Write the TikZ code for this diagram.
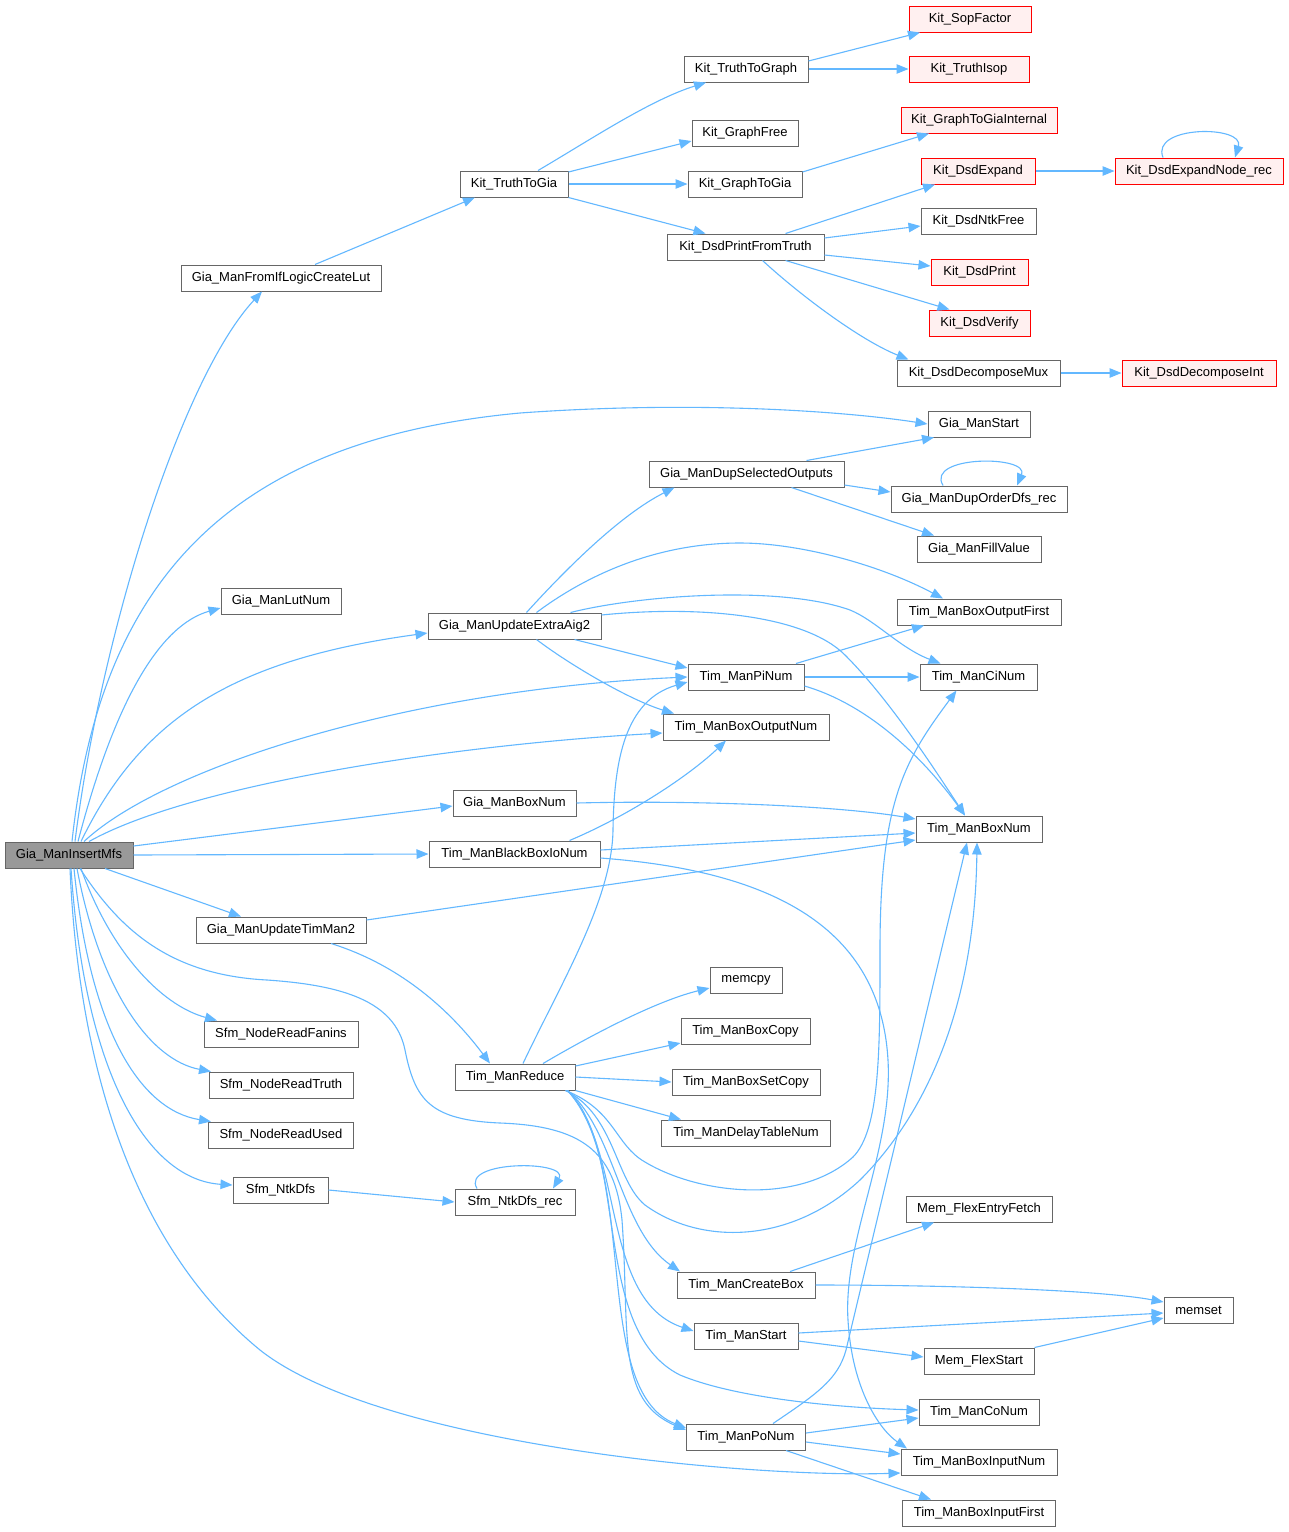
\documentclass[tikz,border=0pt]{standalone}
\usepackage{fontspec}
\setmainfont{Liberation Sans}
\usetikzlibrary{arrows.meta}
\definecolor{edgec}{HTML}{63B8FF}
\definecolor{boxc}{HTML}{666666}
\definecolor{redfill}{HTML}{FFF0F0}
\definecolor{rootfill}{HTML}{999999}
\begin{document}
\begin{tikzpicture}[x=1pt,y=-1pt,
 box/.style={draw=boxc, fill=white, line width=1pt, minimum height=26pt, inner sep=0pt, font=\fontsize{13}{15}\selectfont},
 redbox/.style={box, draw=red, fill=redfill},
 rootbox/.style={box, fill=rootfill},
 cedge/.style={draw=edgec, line width=1.1pt, -{Triangle[length=12pt,width=9.5pt]}},
]
\useasboundingbox[fill=white] (0,0) rectangle (1289,1532);

% nodes
\node[rootbox,minimum width=128pt] (root) at (69,855) {Gia\_ManInsertMfs};
\node[box,minimum width=200pt] (fromif) at (281,278) {Gia\_ManFromIfLogicCreateLut};
\node[box,minimum width=108pt] (truthtogia) at (514,184) {Kit\_TruthToGia};
\node[box,minimum width=124pt] (truthtograph) at (746,69) {Kit\_TruthToGraph};
\node[redbox,minimum width=122pt] (sopfactor) at (970,19) {Kit\_SopFactor};
\node[redbox,minimum width=120pt] (truthisop) at (969,69) {Kit\_TruthIsop};
\node[box,minimum width=106pt] (graphfree) at (745,133) {Kit\_GraphFree};
\node[redbox,minimum width=156pt] (graphtogiaint) at (979,120) {Kit\_GraphToGiaInternal};
\node[box,minimum width=114pt] (graphtogia) at (745,184) {Kit\_GraphToGia};
\node[redbox,minimum width=114pt] (dsdexpand) at (978,171) {Kit\_DsdExpand};
\node[redbox,minimum width=168pt] (dsdexpandrec) at (1199,171) {Kit\_DsdExpandNode\_rec};
\node[box,minimum width=157pt] (dsdprintft) at (745.5,247) {Kit\_DsdPrintFromTruth};
\node[box,minimum width=115pt] (dsdntkfree) at (978.5,221) {Kit\_DsdNtkFree};
\node[redbox,minimum width=97pt] (dsdprint) at (979.5,272) {Kit\_DsdPrint};
\node[redbox,minimum width=101pt] (dsdverify) at (979.5,323) {Kit\_DsdVerify};
\node[box,minimum width=163pt] (dsdmux) at (978.5,373) {Kit\_DsdDecomposeMux};
\node[redbox,minimum width=154pt] (dsdint) at (1199,373) {Kit\_DsdDecomposeInt};
\node[box,minimum width=102pt] (giastart) at (979,424) {Gia\_ManStart};
\node[box,minimum width=195pt] (dupsel) at (746.5,474) {Gia\_ManDupSelectedOutputs};
\node[box,minimum width=176pt] (duporder) at (979,499) {Gia\_ManDupOrderDfs\_rec};
\node[box,minimum width=124pt] (fillvalue) at (979,549) {Gia\_ManFillValue};
\node[box,minimum width=120pt] (lutnum) at (281,601) {Gia\_ManLutNum};
\node[box,minimum width=173pt] (extra) at (514.5,626) {Gia\_ManUpdateExtraAig2};
\node[box,minimum width=164pt] (boxoutfirst) at (979,612) {Tim\_ManBoxOutputFirst};
\node[box,minimum width=116pt] (pinum) at (746,677) {Tim\_ManPiNum};
\node[box,minimum width=117pt] (cinum) at (978.5,677) {Tim\_ManCiNum};
\node[box,minimum width=166pt] (boxoutnum) at (746,727) {Tim\_ManBoxOutputNum};
\node[box,minimum width=123pt] (giaboxnum) at (514.5,803) {Gia\_ManBoxNum};
\node[box,minimum width=126pt] (boxnum) at (979,829) {Tim\_ManBoxNum};
\node[box,minimum width=171pt] (blackbox) at (514.5,854) {Tim\_ManBlackBoxIoNum};
\node[box,minimum width=170pt] (timman2) at (281,930) {Gia\_ManUpdateTimMan2};
\node[box,minimum width=72pt] (memcpy) at (746,980) {memcpy};
\node[box,minimum width=129pt] (boxcopy) at (745.5,1031) {Tim\_ManBoxCopy};
\node[box,minimum width=154pt] (fanins) at (281,1034) {Sfm\_NodeReadFanins};
\node[box,minimum width=120pt] (reduce) at (515,1077) {Tim\_ManReduce};
\node[box,minimum width=148pt] (boxsetcopy) at (746,1082) {Tim\_ManBoxSetCopy};
\node[box,minimum width=144pt] (readtruth) at (281,1085) {Sfm\_NodeReadTruth};
\node[box,minimum width=169pt] (delaytable) at (746,1133) {Tim\_ManDelayTableNum};
\node[box,minimum width=145pt] (readused) at (281,1135) {Sfm\_NodeReadUsed};
\node[box,minimum width=95pt] (ntkdfs) at (280.5,1190) {Sfm\_NtkDfs};
\node[box,minimum width=120pt] (ntkdfsrec) at (515,1202) {Sfm\_NtkDfs\_rec};
\node[box,minimum width=146pt] (flexfetch) at (979,1209) {Mem\_FlexEntryFetch};
\node[box,minimum width=138pt] (createbox) at (746,1285) {Tim\_ManCreateBox};
\node[box,minimum width=69pt] (memset) at (1198.5,1310) {memset};
\node[box,minimum width=104pt] (timstart) at (746,1336) {Tim\_ManStart};
\node[box,minimum width=110pt] (flexstart) at (979,1361) {Mem\_FlexStart};
\node[box,minimum width=120pt] (conum) at (979,1412) {Tim\_ManCoNum};
\node[box,minimum width=119pt] (ponum) at (746,1437) {Tim\_ManPoNum};
\node[box,minimum width=156pt] (boxinnum) at (979,1462) {Tim\_ManBoxInputNum};
\node[box,minimum width=153pt] (boxinfirst) at (979,1513) {Tim\_ManBoxInputFirst};

% root edges
\draw[cedge] ([xshift=6pt]root.north) .. controls (100,640) and (180,380) .. ([xshift=-19pt]fromif.south);
\draw[cedge] ([xshift=3pt]root.north) .. controls (100,580) and (230,440) .. (520,413) .. controls (700,400) and (850,412) .. (giastart.west);
\draw[cedge] ([xshift=9pt]root.north) .. controls (115,700) and (160,625) .. ([yshift=-7pt]lutnum.west);
\draw[cedge] ([xshift=12pt]root.north) .. controls (140,720) and (230,660) .. ([yshift=-7pt]extra.west);
\draw[cedge] ([xshift=15pt]root.north) .. controls (160,770) and (400,690) .. (pinum.west);
\draw[cedge] ([xshift=20pt]root.north) .. controls (190,785) and (450,745) .. ([yshift=-6pt]boxoutnum.west);
\draw[cedge] ([yshift=9pt]root.east) -- ([yshift=-3pt]giaboxnum.west);
\draw[cedge] (root.east) -- (blackbox.west);
\draw[cedge] ([xshift=36pt]root.south) -- ([xshift=-40pt]timman2.north);
\draw[cedge] ([xshift=12pt]root.south) .. controls (110,950) and (160,1005) .. ([xshift=-64pt]fanins.north);
\draw[cedge] ([xshift=8pt]root.south) .. controls (100,990) and (150,1060) .. ([xshift=-70pt]readtruth.north);
\draw[cedge] ([xshift=5pt]root.south) .. controls (90,1030) and (140,1110) .. ([xshift=-70pt]readused.north);
\draw[cedge] ([xshift=2pt]root.south) .. controls (85,1080) and (150,1180) .. ([yshift=5pt]ntkdfs.west);
\draw[cedge] ([xshift=11pt]root.south) .. controls (120,930) and (170,975) .. (267,980) .. controls (340,985) and (395,1000) .. (405,1050) .. controls (415,1100) and (430,1120) .. (500,1123) .. controls (580,1126) and (615,1150) .. (622,1220) .. controls (630,1330) and (615,1400) .. ([yshift=7pt]ponum.west);
\draw[cedge] ([xshift=1pt]root.south) .. controls (80,1100) and (150,1260) .. (260,1350) .. controls (380,1445) and (750,1478) .. ([yshift=-11pt]boxinnum.west);

% Kit area
\draw[cedge] ([xshift=34pt]fromif.north) -- ([xshift=-39pt]truthtogia.south);
\draw[cedge] ([xshift=24pt]truthtogia.north) .. controls (590,140) and (650,100) .. ([xshift=-40pt]truthtograph.south);
\draw[cedge] ([yshift=12pt]truthtogia.east) -- ([yshift=-8pt]graphfree.west);
\draw[cedge] (truthtogia.east) -- (graphtogia.west);
\draw[cedge] (truthtogia.south east) -- ([xshift=-40pt]dsdprintft.north);
\draw[cedge] ([yshift=8pt]truthtograph.east) -- ([xshift=-50pt]sopfactor.south);
\draw[cedge] (truthtograph.east) -- (truthisop.west);
\draw[cedge] ([yshift=12pt]graphtogia.east) -- ([xshift=-50pt]graphtogiaint.south);
\draw[cedge] ([xshift=40pt]dsdprintft.north) -- ([xshift=-43pt]dsdexpand.south);
\draw[cedge] ([yshift=9pt]dsdprintft.east) -- ([yshift=-5pt]dsdntkfree.west);
\draw[cedge] ([yshift=-8pt]dsdprintft.east) -- ([yshift=6pt]dsdprint.west);
\draw[cedge] ([xshift=40pt]dsdprintft.south) -- ([xshift=-30pt]dsdverify.north);
\draw[cedge] ([xshift=17pt]dsdprintft.south) .. controls (800,295) and (860,340) .. ([xshift=-70pt]dsdmux.north);
\draw[cedge] (dsdexpand.east) -- (dsdexpandrec.west);
\draw[cedge] ([xshift=-36pt]dsdexpandrec.north) .. controls (1150,125) and (1245,125) .. ([xshift=36pt]dsdexpandrec.north);
\draw[cedge] (dsdmux.east) -- (dsdint.west);

% Gia_ManDupSelectedOutputs
\draw[cedge] ([xshift=60pt]dupsel.north) -- ([xshift=-45pt]giastart.south);
\draw[cedge] ([yshift=-11pt]dupsel.east) -- ([yshift=7pt]duporder.west);
\draw[cedge] ([xshift=45pt]dupsel.south) -- ([xshift=-45pt]fillvalue.north);
\draw[cedge] ([xshift=-36pt]duporder.north) .. controls (925,455) and (1030,455) .. ([xshift=38pt]duporder.north);

% Gia_ManUpdateExtraAig2
\draw[cedge] ([xshift=12pt]extra.north) .. controls (565,570) and (620,515) .. ([xshift=-72pt]dupsel.south);
\draw[cedge] ([xshift=22pt]extra.north) .. controls (580,580) and (650,543) .. (740,543) .. controls (800,543) and (880,565) .. ([xshift=-36pt]boxoutfirst.north);
\draw[cedge] ([xshift=56pt]extra.north) .. controls (640,595) and (780,585) .. (850,610) .. controls (875,620) and (900,648) .. ([xshift=-38pt]cinum.north);
\draw[cedge] ([yshift=11pt]extra.east) .. controls (700,605) and (805,615) .. (845,655) .. controls (890,700) and (935,770) .. ([xshift=-14pt]boxnum.north);
\draw[cedge] ([xshift=60pt]extra.south) -- ([yshift=9pt]pinum.west);
\draw[cedge] ([xshift=22pt]extra.south) .. controls (570,665) and (630,700) .. ([xshift=-72pt]boxoutnum.north);

% Tim_ManPiNum
\draw[cedge] ([xshift=50pt]pinum.north) -- ([xshift=-55pt]boxoutfirst.south);
\draw[cedge] (pinum.east) -- (cinum.west);
\draw[cedge] ([yshift=-9pt]pinum.east) .. controls (870,705) and (925,760) .. ([xshift=-14pt]boxnum.north);

% Box num etc
\draw[cedge] (giaboxnum.east) .. controls (700,800) and (840,806) .. ([yshift=10pt]boxnum.west);
\draw[cedge] ([yshift=4pt]blackbox.east) -- ([yshift=-4pt]boxnum.west);
\draw[cedge] ([yshift=10pt]timman2.east) -- ([yshift=-11pt]boxnum.west);
\draw[cedge] ([xshift=55pt]blackbox.north) .. controls (630,815) and (690,775) .. ([xshift=-20pt]boxoutnum.south);
\draw[cedge] ([yshift=-4pt]blackbox.east) .. controls (760,870) and (880,920) .. (888,1060) .. controls (893,1150) and (843,1240) .. (848,1320) .. controls (852,1390) and (880,1430) .. ([xshift=-72pt]boxinnum.north);
\draw[cedge] ([xshift=50pt]timman2.south) .. controls (400,965) and (450,1010) .. ([xshift=-25pt]reduce.north);

% Tim_ManReduce
\draw[cedge] ([xshift=28pt]reduce.north) .. controls (600,1030) and (660,1000) .. ([yshift=-8pt]memcpy.west);
\draw[cedge] ([yshift=11pt]reduce.east) -- ([yshift=-12pt]boxcopy.west);
\draw[cedge] (reduce.east) -- (boxsetcopy.west);
\draw[cedge] (reduce.south east) -- ([xshift=-65pt]delaytable.north);
\draw[cedge] ([xshift=8pt]reduce.north) .. controls (560,985) and (612,900) .. (613,830) .. controls (614,760) and (625,700) .. ([yshift=-5pt]pinum.west);
\draw[cedge] ([xshift=-10pt]reduce.south east) .. controls (615,1110) and (615,1145) .. (645,1162) .. controls (700,1195) and (800,1205) .. (853,1157) .. controls (880,1130) and (880,1050) .. (880,950) .. controls (880,800) and (905,760) .. ([xshift=-22pt]cinum.south);
\draw[cedge] ([xshift=-10pt]reduce.south east) .. controls (615,1115) and (615,1180) .. (645,1205) .. controls (700,1245) and (790,1245) .. (860,1180) .. controls (930,1110) and (975,1000) .. ([xshift=-2pt]boxnum.south);
\draw[cedge] ([xshift=-8pt]reduce.south east) .. controls (615,1130) and (620,1230) .. ([xshift=-66pt]createbox.north);
\draw[cedge] ([xshift=-8pt]reduce.south east) .. controls (625,1150) and (600,1300) .. ([yshift=5pt]timstart.west);
\draw[cedge] ([xshift=-8pt]reduce.south east) .. controls (630,1150) and (590,1330) .. (680,1375) .. controls (740,1400) and (850,1408) .. ([yshift=2pt]conum.west);
\draw[cedge] ([xshift=-8pt]reduce.south east) .. controls (640,1170) and (590,1390) .. ([yshift=9pt]ponum.west);

% Sfm
\draw[cedge] (ntkdfs.east) -- (ntkdfsrec.west);
\draw[cedge] ([xshift=-38pt]ntkdfsrec.north) .. controls (460,1160) and (570,1160) .. ([xshift=38pt]ntkdfsrec.north);

% bottom right
\draw[cedge] ([xshift=44pt]createbox.north) -- ([xshift=-45pt]flexfetch.south);
\draw[cedge] (createbox.east) .. controls (950,1285) and (1100,1290) .. ([yshift=8pt]memset.west);
\draw[cedge] ([yshift=3pt]timstart.east) -- ([yshift=-3pt]memset.west);
\draw[cedge] ([yshift=-5pt]timstart.east) -- ([yshift=4pt]flexstart.west);
\draw[cedge] (flexstart.north east) -- ([yshift=-8pt]memset.west);
\draw[cedge] ([yshift=4pt]ponum.east) -- ([yshift=-6pt]conum.west);
\draw[cedge] ([xshift=27pt]ponum.north) .. controls (815,1395) and (838,1380) .. (846,1350) -- ([xshift=-12pt]boxnum.south);
\draw[cedge] ([yshift=-5pt]ponum.east) -- ([yshift=8pt]boxinnum.west);
\draw[cedge] ([xshift=40pt]ponum.south) -- ([xshift=-48pt]boxinfirst.north);
\end{tikzpicture}
\end{document}
